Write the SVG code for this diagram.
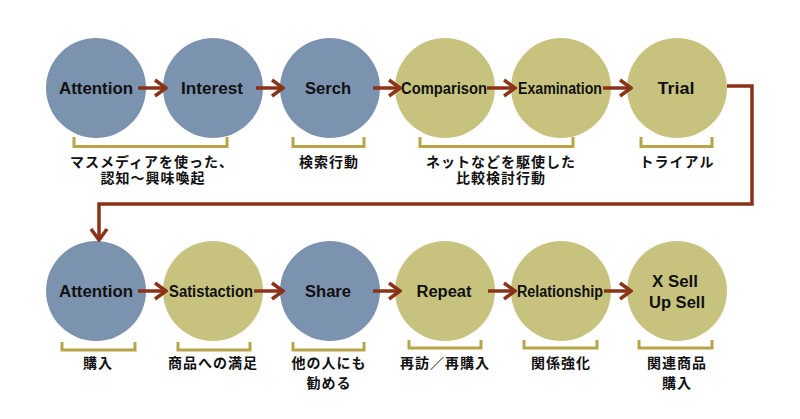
<svg xmlns="http://www.w3.org/2000/svg" width="800" height="419" viewBox="0 0 800 419">
<style>
.b{fill:#7C93B0}
.o{fill:#C8C27F}
.t{font-family:"Liberation Sans","DejaVu Sans",sans-serif;font-weight:bold;font-size:16px;fill:#111;text-anchor:middle}
.j{font-family:"Noto Sans CJK JP","Noto Sans",sans-serif;font-weight:bold;font-size:14px;fill:#111;text-anchor:middle;letter-spacing:1px}
.br{fill:none;stroke:#B8A54A;stroke-width:3}
.c{fill:none;stroke:#8A3318;stroke-width:3.5}
</style>
<defs>
<marker id="ah" viewBox="0 0 14 20" refX="12" refY="10" markerWidth="14" markerHeight="20" markerUnits="userSpaceOnUse" orient="auto">
<path d="M1,2 L12,10 L1,18" fill="none" stroke="#8A3318" stroke-width="3.5"/>
</marker>
</defs>
<rect width="800" height="419" fill="#fff"/>
<g id="n1"><circle class="b" cx="96" cy="88" r="50"/><text class="t" x="96" y="94" textLength="74" lengthAdjust="spacingAndGlyphs">Attention</text></g>
<g id="n2"><circle class="b" cx="213" cy="88" r="50"/><text class="t" x="212" y="94" textLength="62" lengthAdjust="spacingAndGlyphs">Interest</text></g>
<g id="n3"><circle class="b" cx="330" cy="88" r="50"/><text class="t" x="328" y="94" textLength="46" lengthAdjust="spacingAndGlyphs">Serch</text></g>
<g id="n4"><circle class="o" cx="445" cy="88" r="50"/><text class="t" x="444" y="94" textLength="86" lengthAdjust="spacingAndGlyphs">Comparison</text></g>
<g id="n5"><circle class="o" cx="561" cy="88" r="50"/><text class="t" x="560" y="94" textLength="84" lengthAdjust="spacingAndGlyphs">Examination</text></g>
<g id="n6"><circle class="o" cx="677" cy="88" r="50"/><text class="t" x="676" y="94" textLength="37" lengthAdjust="spacingAndGlyphs">Trial</text></g>
<g id="n7"><circle class="b" cx="96" cy="291" r="50"/><text class="t" x="96" y="297" textLength="74" lengthAdjust="spacingAndGlyphs">Attention</text></g>
<g id="n8"><circle class="o" cx="213" cy="291" r="50"/><text class="t" x="211" y="297" textLength="84" lengthAdjust="spacingAndGlyphs">Satistaction</text></g>
<g id="n9"><circle class="b" cx="330" cy="291" r="50"/><text class="t" x="328" y="297" textLength="46" lengthAdjust="spacingAndGlyphs">Share</text></g>
<g id="n10"><circle class="o" cx="445" cy="291" r="50"/><text class="t" x="444" y="297" textLength="55" lengthAdjust="spacingAndGlyphs">Repeat</text></g>
<g id="n11"><circle class="o" cx="561" cy="291" r="50"/><text class="t" x="560" y="297" textLength="86" lengthAdjust="spacingAndGlyphs">Relationship</text></g>
<g id="n12"><circle class="o" cx="677" cy="291" r="50"/><text class="t" x="675" y="287" textLength="46" lengthAdjust="spacingAndGlyphs">X Sell</text><text class="t" x="677" y="308" textLength="56" lengthAdjust="spacingAndGlyphs">Up Sell</text></g>
<g id="connectors">
<path class="c" d="M138,88 H166" marker-end="url(#ah)"/>
<path class="c" d="M256,88 H283" marker-end="url(#ah)"/>
<path class="c" d="M373,88 H400" marker-end="url(#ah)"/>
<path class="c" d="M487,88 H515" marker-end="url(#ah)"/>
<path class="c" d="M603,88 H631" marker-end="url(#ah)"/>
<path class="c" d="M727,86 H752 V204 H99 V240" marker-end="url(#ah)"/>
<path class="c" d="M138,291 H166" marker-end="url(#ah)"/>
<path class="c" d="M254,291 H283" marker-end="url(#ah)"/>
<path class="c" d="M373,291 H400" marker-end="url(#ah)"/>
<path class="c" d="M488,291 H515" marker-end="url(#ah)"/>
<path class="c" d="M604,291 H631" marker-end="url(#ah)"/>
</g>
<g id="labels">
<path class="br" d="M74,137 V146.5 H227 V137"/>
<text class="j" x="152" y="167">マスメディアを使った、</text>
<text class="j" x="153" y="183">認知～興味喚起</text>
<path class="br" d="M293,137 V146.5 H364 V137"/>
<text class="j" x="329" y="167">検索行動</text>
<path class="br" d="M420,137 V146.5 H573 V137"/>
<text class="j" x="501" y="167">ネットなどを駆使した</text>
<text class="j" x="501" y="183">比較検討行動</text>
<path class="br" d="M641,137 V146.5 H712 V137"/>
<text class="j" x="677" y="167">トライアル</text>
<path class="br" d="M62,342 V350 H135 V342"/>
<text class="j" x="98" y="368">購入</text>
<path class="br" d="M178,342 V350 H250 V342"/>
<text class="j" x="213" y="368">商品への満足</text>
<path class="br" d="M293,342 V350 H364 V342"/>
<text class="j" x="329" y="368">他の人にも</text>
<text class="j" x="329" y="388">勧める</text>
<path class="br" d="M409,340 V348 H481 V340"/>
<text class="j" x="445" y="368">再訪／再購入</text>
<path class="br" d="M524,340 V348 H597 V340"/>
<text class="j" x="561" y="368">関係強化</text>
<path class="br" d="M639,340 V348 H712 V340"/>
<text class="j" x="677" y="368">関連商品</text>
<text class="j" x="677" y="388">購入</text>
</g>
</svg>
